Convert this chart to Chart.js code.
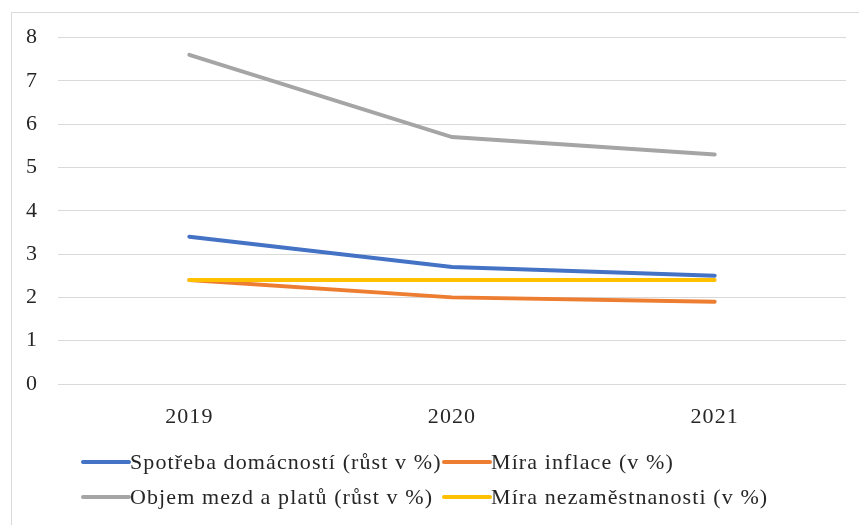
<!DOCTYPE html>
<html>
<head>
<meta charset="utf-8">
<script src="https://cdn.jsdelivr.net/npm/chart.js@4"></script>
<style>
  html, body { margin: 0; padding: 0; background: #fff; overflow: hidden; }
  #box {
    position: absolute; left: 11px; top: 12px; width: 848px; height: 513px;
    border-left: 1px solid #d9d9d9; border-top: 1px solid #d9d9d9;
  }
  #chart { display: block; }
</style>
</head>
<body>
<div id="box"><canvas id="chart" width="847" height="512"></canvas></div>
<script>
// data
const years = ['2019', '2020', '2021'];
const spotreba = [3.4, 2.7, 2.5];
const inflace = [2.4, 2.0, 1.9];
const mzdy = [7.6, 5.7, 5.3];
const nezamestnanost = [2.4, 2.4, 2.4];
const yTicks = [0, 1, 2, 3, 4, 5, 6, 7, 8];

const seriesNames = [
    'Spotřeba domácností (růst v %)',
    'Míra inflace (v %)',
    'Objem mezd a platů (růst v %)',
    'Míra nezaměstnanosti (v %)'
];
const seriesColors = ['#4472C4', '#ED7D31', '#A5A5A5', '#FFC000'];
const FONT = '"Liberation Serif", "Times New Roman", serif';
const SPACING = '1.1px'; // the original text is a bit wider than Liberation Serif

// wider letters for all text on the canvas
const wideText = {
    id: 'wideText',
    beforeDraw: function (chart) { chart.ctx.letterSpacing = SPACING; },
    afterDraw: function (chart) { chart.ctx.letterSpacing = '0px'; }
};

// two-column legend like the excel original
const columnLegend = {
    id: 'columnLegend',
    afterDraw: function (chart) {
        const ctx = chart.ctx;
        const cols = [71, 432];
        const rows = [449, 484];
        ctx.save();
        ctx.letterSpacing = SPACING;
        ctx.font = '22px ' + FONT;
        ctx.textBaseline = 'middle';
        ctx.fillStyle = '#262626';
        chart.data.datasets.forEach(function (ds, i) {
            const x = cols[i % 2];
            const y = rows[Math.floor(i / 2)];
            ctx.strokeStyle = ds.borderColor;
            ctx.lineWidth = 4;
            ctx.lineCap = 'round';
            ctx.beginPath();
            ctx.moveTo(x, y);
            ctx.lineTo(x + 46, y);
            ctx.stroke();
            ctx.fillText(ds.label, x + 47, y + 1);
        });
        ctx.restore();
    }
};

const values = [spotreba, inflace, mzdy, nezamestnanost];
const datasets = values.map(function (v, i) {
    return {
        label: seriesNames[i],
        data: v,
        borderColor: seriesColors[i],
        backgroundColor: seriesColors[i],
        borderWidth: 4,
        pointRadius: 0,
        tension: 0,
        borderCapStyle: 'round',
        order: 3 - i
    };
});

new Chart(document.getElementById('chart').getContext('2d'), {
    type: 'line',
    data: { labels: years, datasets: datasets },
    options: {
        responsive: false,
        animation: false,
        layout: { padding: { left: 0, top: 24.5, right: 13, bottom: 92 } },
        plugins: { legend: { display: false }, tooltip: { enabled: false } },
        scales: {
            x: {
                offset: true,
                grid: { display: false },
                border: { display: false },
                ticks: { color: '#262626', font: { family: FONT, size: 22 }, padding: 12 },
                afterFit: function (s) { s.height = 49; }
            },
            y: {
                min: 0,
                max: 8,
                afterBuildTicks: function (s) { s.ticks = yTicks.map(function (v) { return { value: v }; }); },
                grid: { color: '#d9d9d9', lineWidth: 1, drawTicks: false },
                border: { display: false },
                ticks: { color: '#262626', font: { family: FONT, size: 22 }, padding: 20 },
                afterFit: function (s) { s.width = 46; s.paddingTop = 0; s.paddingBottom = 0; }
            }
        }
    },
    plugins: [wideText, columnLegend]
});
</script>
</body>
</html>
